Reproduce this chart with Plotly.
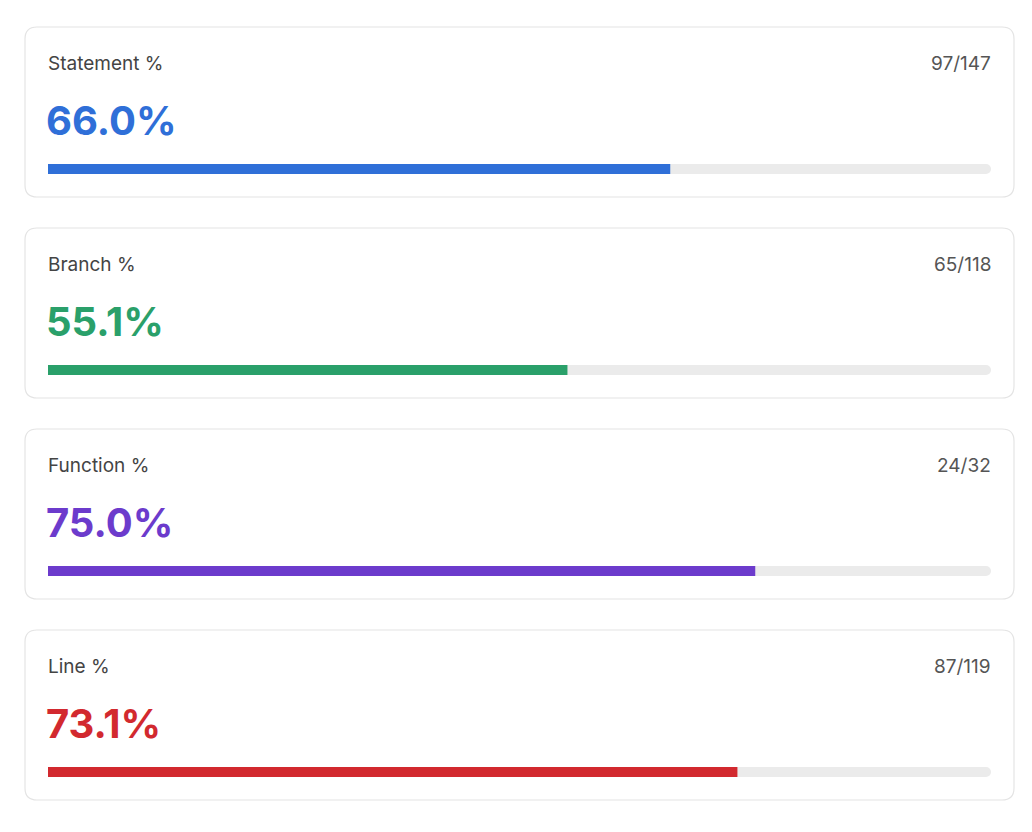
import plotly.graph_objects as go

labels = ["Statement %", "Branch %", "Function %", "Line %"]
covered = [97, 65, 24, 87]
totals = [147, 118, 32, 119]
colors = ["#2f6fd8", "#2aa06a", "#6c3bcc", "#d2292f"]

# page has an 8px body margin, so work in window pixels and shift by OFF
OFF = 8
W, H = 1032 - 2 * OFF, 832 - 2 * OFF
pct = [c / t * 100 for c, t in zip(covered, totals)]
rows = [169 - OFF + 201 * i for i in range(len(labels))]

fig = go.Figure()
fig.add_trace(go.Bar(x=[100] * len(labels), y=rows, orientation="h", width=10,
                     marker=dict(color="#ebebeb", line=dict(width=0), cornerradius=5),
                     hoverinfo="skip"))
fig.add_trace(go.Bar(x=pct, y=rows, orientation="h", width=10,
                     marker=dict(color=colors, line=dict(width=0), cornerradius=5),
                     hoverinfo="skip"))


def rounded(x0, y0, x1, y1, r):
    px = lambda v: v / W
    return (f"M {px(x0 + r)},{y0} L {px(x1 - r)},{y0} Q {px(x1)},{y0} {px(x1)},{y0 + r} "
            f"L {px(x1)},{y1 - r} Q {px(x1)},{y1} {px(x1 - r)},{y1} L {px(x0 + r)},{y1} "
            f"Q {px(x0)},{y1} {px(x0)},{y1 - r} L {px(x0)},{y0 + r} Q {px(x0)},{y0} {px(x0 + r)},{y0} Z")


shapes, annotations = [], []
for i, lab in enumerate(labels):
    top = 27 - OFF + 201 * i
    shapes.append(dict(type="path", path=rounded(25 - OFF, top, 1014 - OFF, top + 170, 12),
                       xref="paper", yref="y", fillcolor="white",
                       line=dict(color="#e4e4e4", width=1.2), layer="below"))
    annotations.append(dict(x=(46 - OFF) / W, y=top + 36, xref="paper", yref="y", text=lab,
                            showarrow=False, xanchor="left", yanchor="middle",
                            font=dict(size=19, color="#444444", family="Inter")))
    annotations.append(dict(x=(993 - OFF) / W, y=top + 36, xref="paper", yref="y",
                            text=f"{covered[i]}/{totals[i]}", showarrow=False,
                            xanchor="right", yanchor="middle",
                            font=dict(size=19, color="#555555", family="Inter")))
    annotations.append(dict(x=(44 - OFF) / W, y=top + 93, xref="paper", yref="y",
                            text=f"<b>{pct[i]:.1f}%</b>", showarrow=False,
                            xanchor="left", yanchor="middle",
                            font=dict(size=40, color=colors[i], family="Inter")))

fig.update_layout(
    width=W, height=H, margin=dict(l=0, r=0, t=0, b=0),
    paper_bgcolor="white", plot_bgcolor="rgba(0,0,0,0)",
    barmode="overlay", showlegend=False,
    xaxis=dict(domain=[(48 - OFF) / W, (991 - OFF) / W], range=[0, 100],
               visible=False, fixedrange=True),
    yaxis=dict(range=[H, 0], visible=False, fixedrange=True),
    shapes=shapes, annotations=annotations,
)
fig.write_html("out.html", config={"displayModeBar": False})
